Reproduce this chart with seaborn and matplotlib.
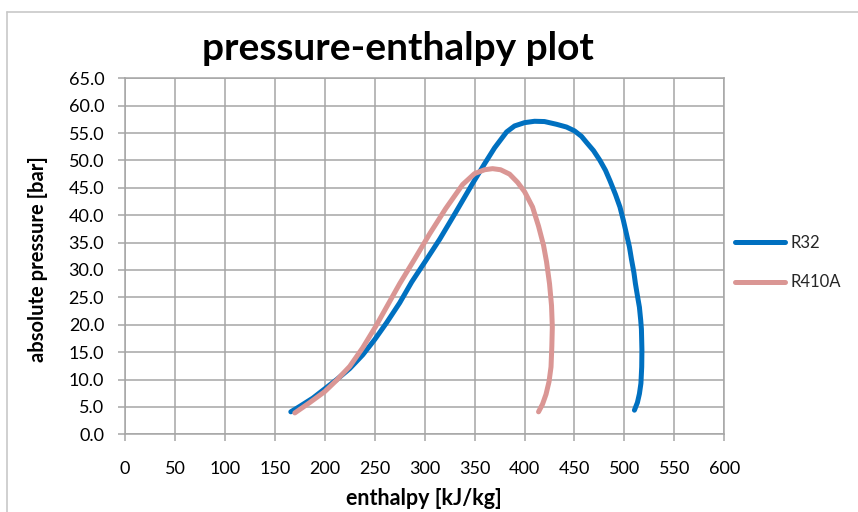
import matplotlib
matplotlib.use("Agg")
import matplotlib.pyplot as plt
import numpy as np
import pandas as pd
import seaborn as sns
from matplotlib.lines import Line2D

# ---- data ----
r32_h = [166, 175, 188, 200, 212, 225, 238, 250, 262, 275, 287, 300, 315, 331,
         348, 360, 370, 382, 390, 400, 410, 420, 432, 442, 450, 457, 462, 469,
         475.5, 481, 485.5, 491, 495.5, 499, 502, 505, 507, 509.5, 511, 513,
         515, 516.3, 517, 517.5, 517.3, 516.5, 515, 513, 510]
r32_p = [4.1, 5.1, 6.6, 8.3, 10.0, 12.0, 14.5, 17.3, 20.4, 24.0, 27.8, 31.4,
         35.6, 40.5, 45.8, 49.4, 52.3, 55.2, 56.3, 56.9, 57.15, 57.1, 56.6,
         56.1, 55.4, 54.4, 53.3, 51.8, 50.0, 48.2, 46.3, 43.8, 41.5, 39.0, 36.6,
         34.2, 32.0, 29.5, 27.5, 25.3, 23.2, 20.8, 19.2, 15.4, 12.3, 9.3, 7.4,
         5.8, 4.4]

r410a_h = [170, 185, 200, 212, 225, 238, 251, 263, 275, 290, 305, 321, 338,
           350, 360, 368, 376, 385, 393, 400, 408, 414, 419, 422, 425, 427,
           427.8, 427.3, 426.5, 424.5, 421.5, 418, 414]
r410a_p = [3.9, 5.8, 7.8, 9.9, 12.4, 15.8, 19.7, 23.6, 27.5, 32.0, 36.6, 41.2,
           45.6, 47.6, 48.3, 48.5, 48.3, 47.5, 46.0, 44.3, 41.5, 38.0, 34.5,
           31.5, 27.5, 23.5, 19.6, 16.0, 12.3, 9.6, 7.3, 5.5, 4.1]

series_names = ["R32", "R410A"]
x_ticks = [0, 50, 100, 150, 200, 250, 300, 350, 400, 450, 500, 550, 600]
y_ticks = [0, 5, 10, 15, 20, 25, 30, 35, 40, 45, 50, 55, 60, 65]
title_text = "pressure-enthalpy plot"
x_label = "enthalpy [kJ/kg]"
y_label = "absolute pressure [bar]"

df = pd.concat([
    pd.DataFrame({"h": r32_h, "p": r32_p, "refrigerant": series_names[0]}),
    pd.DataFrame({"h": r410a_h, "p": r410a_p, "refrigerant": series_names[1]}),
], ignore_index=True)

# ---- styling ----
sns.set_theme(style="whitegrid")
plt.rcParams["font.family"] = ["Lato", "DejaVu Sans"]

colors = {"R32": "#0070C0", "R410A": "#DA9694"}
grid_col = "#a6a6a6"

fig = plt.figure(figsize=(8.58, 5.12), dpi=100)
fig.patch.set_facecolor("white")
ax = fig.add_axes([0.1457, 0.1518, 0.6985, 0.6953])
ax.set_facecolor("white")

sns.lineplot(data=df, x="h", y="p", hue="refrigerant", palette=colors,
             sort=False, estimator=None, linewidth=3.6, legend=False, ax=ax,
             solid_capstyle="round", solid_joinstyle="round")

ax.set_xlim(0, 600)
ax.set_ylim(0, 65)
ax.set_xticks(x_ticks)
ax.set_yticks(y_ticks)
ax.set_yticklabels([f"{v:.1f}" for v in y_ticks])
ax.set_xticklabels([str(v) for v in x_ticks])

ax.grid(True, color=grid_col, linewidth=1.1)
for s in ax.spines.values():
    s.set_color(grid_col)
    s.set_linewidth(1.1)

ax.tick_params(axis="both", which="major", length=5, width=1.1, color=grid_col,
               direction="out", labelsize=13, labelcolor="black")
ax.tick_params(axis="y", pad=10, left=True)
ax.tick_params(axis="x", pad=14, bottom=True)

ax.set_xlabel(x_label, fontsize=15.5, fontweight="bold", color="black")
ax.set_ylabel(y_label, fontsize=14.5, fontweight="bold", color="black")
ax.xaxis.set_label_coords(0.499, -0.151)
ax.yaxis.set_label_coords(-0.1285, 0.491)

fig.text(397.5 / 858, 1 - 60 / 512, title_text, ha="center", va="baseline",
         fontsize=28, fontweight="bold", color="black")

handles = [Line2D([], [], color=colors[n], linewidth=3.6, solid_capstyle="round")
           for n in series_names]
fig.legend(handles, series_names, loc="center left",
           bbox_to_anchor=(735 / 858, 1 - 262.7 / 512), frameon=False,
           fontsize=12, handlelength=3.0, handletextpad=0.35,
           labelspacing=1.4, borderpad=0, borderaxespad=0)

# chart-area border (top and left edges visible in the reference)
fig.add_artist(Line2D([7 / 858, 1], [1 - 11.5 / 512, 1 - 11.5 / 512],
                      transform=fig.transFigure, color="#c8c8c8", linewidth=1.2))
fig.add_artist(Line2D([7 / 858, 7 / 858], [0, 1 - 11.5 / 512],
                      transform=fig.transFigure, color="#c8c8c8", linewidth=1.2))

fig.savefig("out.png", dpi=100, facecolor="white")
